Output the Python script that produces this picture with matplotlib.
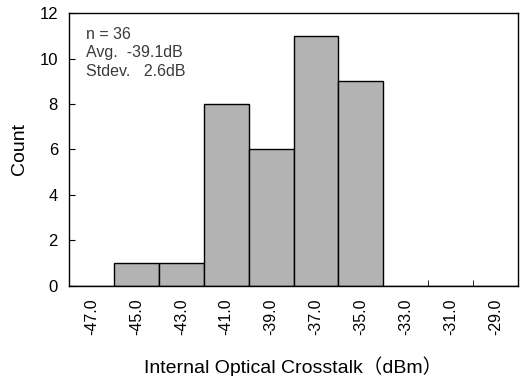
import numpy as np
import matplotlib
matplotlib.use('Agg')
import matplotlib.pyplot as plt
from matplotlib.ticker import FixedLocator

plt.rcParams['font.family'] = ['Liberation Sans', 'Noto Sans CJK JP', 'DejaVu Sans']

# histogram bins (dBm) and counts per bin
bin_labels = ['-47.0', '-45.0', '-43.0', '-41.0', '-39.0', '-37.0', '-35.0', '-33.0', '-31.0', '-29.0']
counts = [0, 1, 1, 8, 6, 11, 9, 0, 0, 0]
stats_text = "n = 36\nAvg.  -39.1dB\nStdev.   2.6dB"

fig = plt.figure(figsize=(5.32, 3.76), dpi=100)
ax = fig.add_axes([0.1297, 0.2394, 0.8440, 0.7260])

x = np.arange(len(bin_labels))
ax.bar(x, counts, width=1.0, color='#b3b3b3', edgecolor='black', linewidth=1.0)

ax.set_xlim(-0.5, len(bin_labels) - 0.5)
ax.set_ylim(0, 12)
ax.set_yticks(np.arange(0, 13, 2))
ax.tick_params(axis='y', direction='in', length=4, labelsize=12, pad=8)

# labels centred on bins, tick marks on bin edges
ax.set_xticks(x)
ax.set_xticklabels(bin_labels, rotation=90, fontsize=11.5)
ax.tick_params(axis='x', which='major', length=0, pad=9)
ax.xaxis.set_minor_locator(FixedLocator(x[:-1] + 0.5))
ax.tick_params(axis='x', which='minor', direction='in', length=4)

for s in ax.spines.values():
    s.set_linewidth(1.0)

ax.set_ylabel('Count', fontsize=14, labelpad=8)
ax.set_xlabel('Internal Optical Crosstalk（dBm）', fontsize=14, labelpad=15)

ax.text(0.038, 0.95, stats_text, transform=ax.transAxes, va='top', ha='left',
        fontsize=11.5, color='#3a3a3a', linespacing=1.3)

fig.savefig('out.png', dpi=100)
